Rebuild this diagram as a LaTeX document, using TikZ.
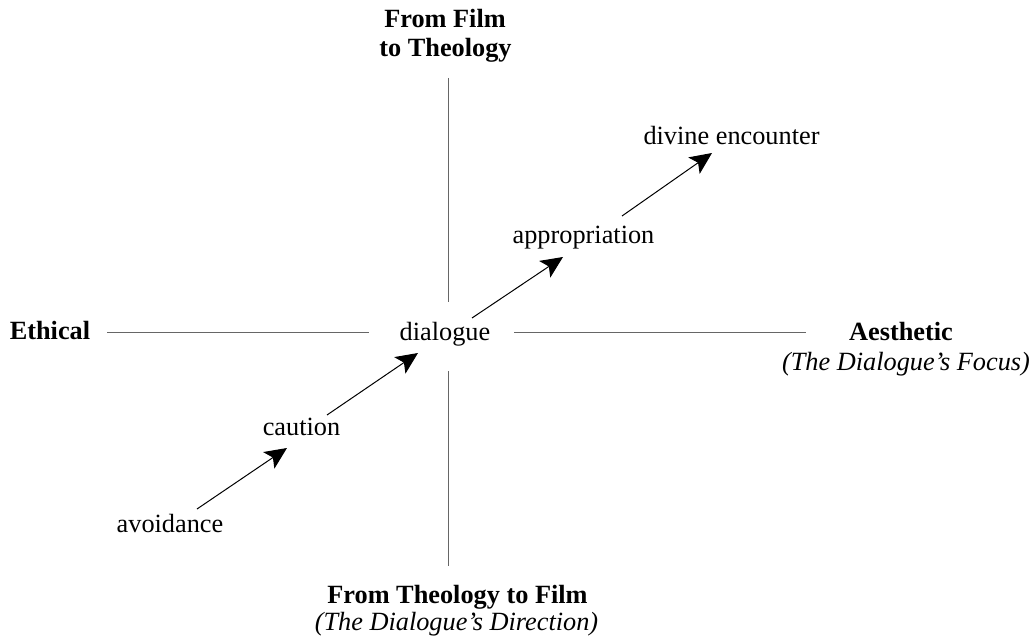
\documentclass[tikz,border=0pt]{standalone}
\usepackage{fontspec}
\setmainfont{Liberation Serif}
\usetikzlibrary{arrows.meta}

\begin{document}
\begin{tikzpicture}[x=0.5pt, y=-0.5pt,
		lbl/.style={inner sep=0pt, anchor=base, font=\fontsize{13.15}{14.5}\selectfont},
		hdr/.style={lbl, font=\fontsize{13.15}{14.5}\selectfont\bfseries},
		sub/.style={lbl, font=\fontsize{13.15}{14.5}\selectfont\itshape},
		axisline/.style={line width=0.5pt, color=black!60},
		flow/.style={line width=0.5pt, -{Stealth[length=11pt, width=10pt, inset=2.5pt]}}]
			%%%%% START %%%%%
			\useasboundingbox (0, 0) rectangle (1034, 642);
			
			\node[hdr] (fromfilm) at (445, 28) {From Film};
			\node[hdr] (totheo) at (445.5, 57) {to Theology};
			
			\node[hdr] (ethical) at (50, 339) {Ethical};
			\node[lbl] (dlg) at (445, 340) {dialogue};
			\node[hdr] (aesth) at (901, 340) {Aesthetic};
			\node[sub] (focus) at (906, 370) {(The Dialogue’s Focus)};
			
			\node[lbl] (avoid) at (170, 532) {avoidance};
			\node[lbl] (caution) at (301.5, 435) {caution};
			\node[lbl] (approp) at (583.5, 243) {appropriation};
			\node[lbl] (divine) at (731.5, 145) {divine encounter};
			
			\node[hdr] (fromtheo) at (457.5, 603) {From Theology to Film};
			\node[sub] (direction) at (456.5, 630) {(The Dialogue’s Direction)};
			
			% axes
			\draw[axisline] ([shift={(2.5, 21)}]totheo.base) -- ([shift={(3, -38)}]dlg.base);
			\draw[axisline] ([shift={(3, 31)}]dlg.base) -- ([shift={(-9.5, -37)}]fromtheo.base);
			\draw[axisline] ([shift={(57, -7)}]ethical.base) -- ([shift={(-76, -8)}]dlg.base);
			\draw[axisline] ([shift={(69, -8)}]dlg.base) -- ([shift={(-95, -8)}]aesth.base);
			
			% steps
			\draw[flow] ([shift={(27, -23)}]avoid.base) -- ([shift={(-14.5, 13)}]caution.base);
			\draw[flow] ([shift={(25.5, -20)}]caution.base) -- ([shift={(-27, 13)}]dlg.base);
			\draw[flow] ([shift={(27, -22)}]dlg.base) -- ([shift={(-20.5, 14)}]approp.base);
			\draw[flow] ([shift={(38.5, -27)}]approp.base) -- ([shift={(-19.5, 8)}]divine.base);
			
			%%%%% END %%%%%
		\end{tikzpicture}
\end{document}
